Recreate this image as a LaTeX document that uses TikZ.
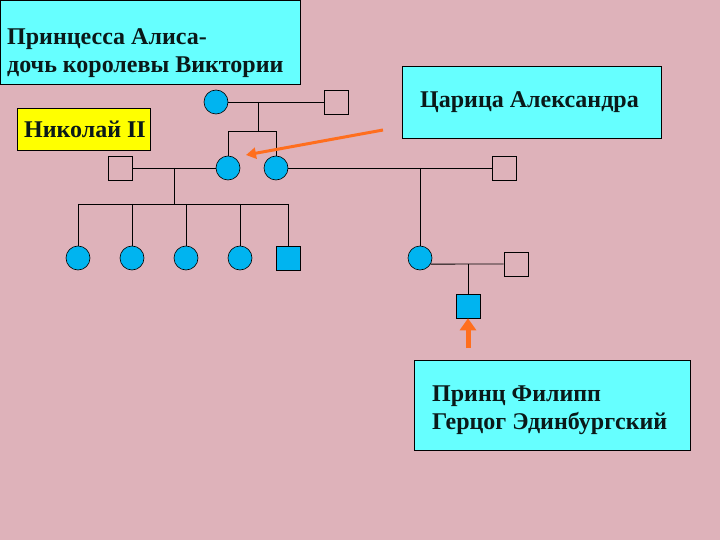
\documentclass[tikz,border=0pt]{standalone}
\usepackage{fontspec}
\setmainfont{Liberation Serif}
\usetikzlibrary{arrows.meta}
\definecolor{bgpink}{RGB}{222,178,186}
\definecolor{boxcyan}{RGB}{102,255,255}
\definecolor{boxyellow}{RGB}{255,255,0}
\definecolor{pedblue}{RGB}{0,180,240}
\definecolor{arrorange}{RGB}{255,110,30}
\definecolor{txtdark}{RGB}{10,25,25}
\tikzset{
  boxshape/.style={draw=black, line width=0.8pt, fill=boxcyan, anchor=north west, inner sep=0pt},
  boxtext/.style={anchor=base west, inner sep=0pt, font=\fontsize{24}{28}\selectfont\bfseries,
    align=left, text=txtdark},
  fem/.style={circle, draw=black, line width=0.6pt, fill=pedblue, minimum size=24pt, inner sep=0pt},
  malefill/.style={rectangle, draw=black, line width=0.6pt, fill=pedblue, minimum size=24pt, inner sep=0pt},
  maleempty/.style={rectangle, draw=black, line width=0.6pt, minimum size=24pt, inner sep=0pt},
  pline/.style={draw=black, line width=0.8pt},
  orarrow/.style={draw=arrorange, line width=3pt, -{Triangle[length=10pt,width=11pt]}},
  orarrowbig/.style={draw=arrorange, line width=5pt, -{Triangle[length=12pt,width=16pt]}},
}
\begin{document}
\begin{tikzpicture}[x=1pt,y=-1pt]
\useasboundingbox (0,0) rectangle (720,540);
\fill[bgpink] (0,0) rectangle (720,540);

% label boxes
\node[boxshape, minimum width=300pt, minimum height=84pt] (alice) at (0,0) {};
\node[boxtext] (alicet1) at (7,45) {Принцесса Алиса-};
\node[boxtext] (alicet2) at (7,73) {дочь королевы Виктории};
\node[boxshape, fill=boxyellow, minimum width=133pt, minimum height=42pt] (nik) at (17,108) {};
\node[boxtext] (nikt) at (24,138) {Николай II};
\node[boxshape, minimum width=259pt, minimum height=72pt] (alex) at (402,66) {};
\node[boxtext] (alext) at (420,108) {Царица Александра};
\node[boxshape, minimum width=276pt, minimum height=90pt] (phil) at (414,360) {};
\node[boxtext] (philt1) at (432,401) {Принц Филипп};
\node[boxtext] (philt2) at (432,429) {Герцог Эдинбургский};

% generation 1
\node[fem] (g1f) at (216,102) {};
\node[maleempty] (g1m) at (336,102) {};
% generation 2
\node[maleempty] (nicholas) at (120,168) {};
\node[fem] (alexandra) at (228,168) {};
\node[fem] (victoria) at (276,168) {};
\node[maleempty] (louis) at (504,168) {};
% generation 3
\node[fem] (c1) at (78,258) {};
\node[fem] (c2) at (132,258) {};
\node[fem] (c3) at (186,258) {};
\node[fem] (c4) at (240,258) {};
\node[malefill] (c5) at (288,258) {};
\node[fem] (alicebat) at (420,258) {};
\node[maleempty] (andrew) at (516,264) {};
% generation 4
\node[malefill] (philip) at (468,306) {};

% coordinates
\coordinate (m1) at (258,102);
\coordinate (s1) at (258,131);
\coordinate (s1l) at (228,131);
\coordinate (s1r) at (276,131);
\coordinate (m2) at (174,168);
\coordinate (s2) at (174,204);
\coordinate (s2l) at (78,204);
\coordinate (s2r) at (288,204);
\coordinate (m3) at (420,168);
\coordinate (m4) at (468,264);

% connectors
\draw[pline] (g1f) -- (g1m);
\draw[pline] (m1) -- (s1);
\draw[pline] (alexandra) |- (s1l) -- (s1r) -| (victoria);
\draw[pline] (nicholas) -- (alexandra);
\draw[pline] (victoria) -- (louis);
\draw[pline] (m2) -- (s2);
\draw[pline] (s2l) -- (s2r);
\foreach \c/\x in {c1/78,c2/132,c3/186,c4/240,c5/288}
  \draw[pline] (\x,204) -- (\c);
\draw[pline] (m3) -- (alicebat);
\draw[pline] (alicebat.-30) -- (andrew.west);
\draw[pline] (m4) -- (philip);

% arrows
\coordinate (a1s) at (383,130);
\coordinate (a1e) at (246,155);
\coordinate (a2s) at (468,348);
\draw[orarrow] (a1s) -- (a1e);
\draw[orarrowbig] (a2s) -- (philip.south);
\end{tikzpicture}
\end{document}
